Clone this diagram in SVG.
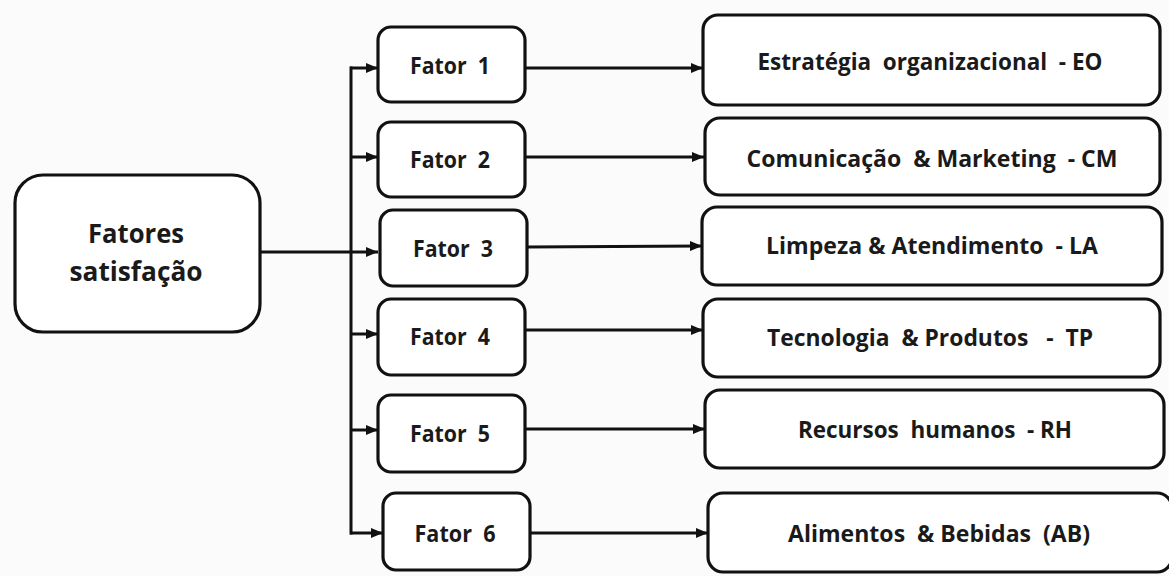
<svg xmlns="http://www.w3.org/2000/svg" width="1169" height="576" viewBox="0 0 1169 576">
  <style>
    .box { fill: #ffffff; stroke: #111111; stroke-width: 3.2; }
    .lbl { font-family: "Open Sans", "Noto Sans", sans-serif; font-weight: 700; fill: #1a1a1a; white-space: pre; }
    .f { font-size: 24px; }
    .r { font-size: 23px; }
    .m { font-size: 26px; }
    .wire { fill: none; stroke: #111111; stroke-width: 3; }
  </style>
  <defs>
    <marker id="arrow" markerUnits="userSpaceOnUse" markerWidth="12" markerHeight="10" refX="12" refY="5" orient="auto">
      <path d="M0,0 L12,5 L0,10 z" fill="#111111"/>
    </marker>
  </defs>
  <rect width="1169" height="576" fill="#fbfbfb"/>

  <g id="connectors">
    <line class="wire" x1="260" y1="252" x2="378" y2="252" marker-end="url(#arrow)"/>
    <line class="wire" x1="351" y1="66.5" x2="351" y2="534.5"/>
    <line class="wire" x1="350" y1="68" x2="378" y2="68" marker-end="url(#arrow)"/>
    <line class="wire" x1="350" y1="157" x2="378" y2="157" marker-end="url(#arrow)"/>
    <line class="wire" x1="350" y1="334" x2="378" y2="334" marker-end="url(#arrow)"/>
    <line class="wire" x1="350" y1="430" x2="378" y2="430" marker-end="url(#arrow)"/>
    <line class="wire" x1="350" y1="533" x2="383" y2="533" marker-end="url(#arrow)"/>
    <line class="wire" x1="525" y1="68" x2="703" y2="68" marker-end="url(#arrow)"/>
    <line class="wire" x1="525" y1="157" x2="704" y2="157" marker-end="url(#arrow)"/>
    <line class="wire" x1="527" y1="247" x2="702" y2="246" marker-end="url(#arrow)"/>
    <line class="wire" x1="525" y1="330" x2="703" y2="330" marker-end="url(#arrow)"/>
    <line class="wire" x1="525" y1="429" x2="705" y2="429" marker-end="url(#arrow)"/>
    <line class="wire" x1="530" y1="533" x2="708" y2="533" marker-end="url(#arrow)"/>
  </g>

  <g id="fatores-satisfacao">
    <rect class="box" x="15" y="175" width="245" height="157" rx="28"/>
    <text class="lbl m" x="136" y="243" text-anchor="middle" textLength="96" lengthAdjust="spacingAndGlyphs">Fatores</text>
    <text class="lbl m" x="136" y="281" text-anchor="middle" textLength="133" lengthAdjust="spacingAndGlyphs">satisfação</text>
  </g>

  <g id="fator-1">
    <rect class="box" x="378" y="27" width="147" height="75" rx="13"/>
    <text class="lbl f" x="450" y="74" text-anchor="middle" textLength="80" lengthAdjust="spacingAndGlyphs">Fator  1</text>
  </g>
  <g id="fator-2">
    <rect class="box" x="378" y="122" width="147" height="75" rx="13"/>
    <text class="lbl f" x="450" y="168" text-anchor="middle" textLength="80" lengthAdjust="spacingAndGlyphs">Fator  2</text>
  </g>
  <g id="fator-3">
    <rect class="box" x="380" y="210" width="147" height="76" rx="13"/>
    <text class="lbl f" x="453" y="257" text-anchor="middle" textLength="80" lengthAdjust="spacingAndGlyphs">Fator  3</text>
  </g>
  <g id="fator-4">
    <rect class="box" x="378" y="299" width="147" height="76" rx="13"/>
    <text class="lbl f" x="450" y="345" text-anchor="middle" textLength="80" lengthAdjust="spacingAndGlyphs">Fator  4</text>
  </g>
  <g id="fator-5">
    <rect class="box" x="378" y="395" width="147" height="77" rx="13"/>
    <text class="lbl f" x="450" y="442" text-anchor="middle" textLength="80" lengthAdjust="spacingAndGlyphs">Fator  5</text>
  </g>
  <g id="fator-6">
    <rect class="box" x="383" y="493" width="147" height="77" rx="13"/>
    <text class="lbl f" x="455" y="542" text-anchor="middle" textLength="81" lengthAdjust="spacingAndGlyphs">Fator  6</text>
  </g>

  <g id="estrategia-organizacional">
    <rect class="box" x="703" y="15" width="457" height="90" rx="15"/>
    <text class="lbl r" x="930" y="70" text-anchor="middle" textLength="345" lengthAdjust="spacingAndGlyphs">Estratégia  organizacional  - EO</text>
  </g>
  <g id="comunicacao-marketing">
    <rect class="box" x="705" y="118" width="455" height="77" rx="15"/>
    <text class="lbl r" x="932" y="167" text-anchor="middle" textLength="371" lengthAdjust="spacingAndGlyphs">Comunicação  &amp; Marketing  - CM</text>
  </g>
  <g id="limpeza-atendimento">
    <rect class="box" x="702" y="207" width="460" height="78" rx="15"/>
    <text class="lbl r" x="932" y="254" text-anchor="middle" textLength="332" lengthAdjust="spacingAndGlyphs">Limpeza &amp; Atendimento  - LA</text>
  </g>
  <g id="tecnologia-produtos">
    <rect class="box" x="703" y="299" width="457" height="78" rx="15"/>
    <text class="lbl r" x="930" y="346" text-anchor="middle" textLength="326" lengthAdjust="spacingAndGlyphs">Tecnologia  &amp; Produtos   -  TP</text>
  </g>
  <g id="recursos-humanos">
    <rect class="box" x="705" y="390" width="459" height="78" rx="15"/>
    <text class="lbl r" x="935" y="438" text-anchor="middle" textLength="274" lengthAdjust="spacingAndGlyphs">Recursos  humanos  - RH</text>
  </g>
  <g id="alimentos-bebidas">
    <rect class="box" x="708" y="493" width="464" height="79" rx="15"/>
    <text class="lbl r" x="939" y="542" text-anchor="middle" textLength="302" lengthAdjust="spacingAndGlyphs">Alimentos  &amp; Bebidas  (AB)</text>
  </g>
</svg>
